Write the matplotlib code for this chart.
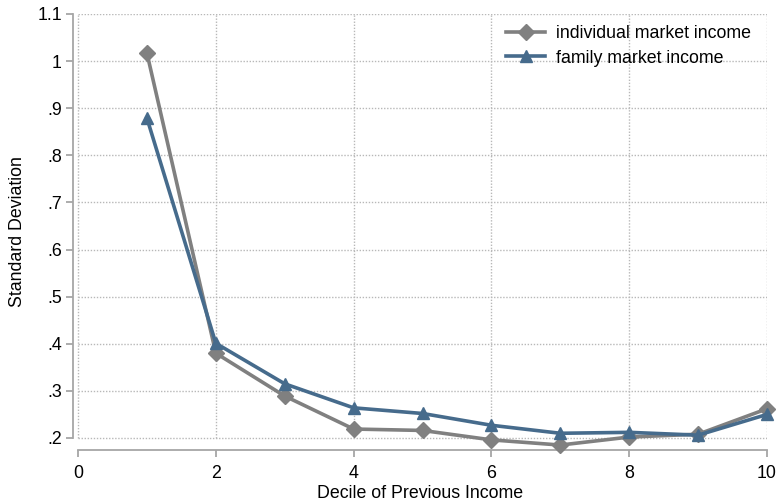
import numpy as np
import matplotlib.pyplot as plt

plt.rcParams['font.family'] = ['Liberation Sans', 'DejaVu Sans']

deciles = [1, 2, 3, 4, 5, 6, 7, 8, 9, 10]
individual = [1.017, 0.380, 0.289, 0.219, 0.216, 0.196, 0.185, 0.202, 0.208, 0.262]
family = [0.879, 0.401, 0.315, 0.264, 0.252, 0.227, 0.210, 0.212, 0.206, 0.250]

yticks = [0.2, 0.3, 0.4, 0.5, 0.6, 0.7, 0.8, 0.9, 1.0, 1.1]
ylabels = ['.2', '.3', '.4', '.5', '.6', '.7', '.8', '.9', '1', '1.1']
xticks = [0, 2, 4, 6, 8, 10]

gray = '#808080'
blue = '#466b8c'
axis_col = '#a6a6a6'
fs = 12.8

fig = plt.figure(figsize=(7.79, 5.04), dpi=100)
ax = fig.add_axes([73 / 779, 54 / 504, 694 / 779, 436 / 504])

# dotted grid confined to the tick range
ax.hlines(yticks, 0, 10, colors='#b8b8b8', linestyles=(0, (1, 1.2)), linewidth=1, zorder=1)
ax.vlines(xticks, 0.2, 1.1, colors='#b8b8b8', linestyles=(0, (1, 1.2)), linewidth=1, zorder=1)

ax.plot(deciles, individual, color=gray, lw=2.6, marker='D', ms=8,
        label='individual market income', clip_on=False, zorder=3)
ax.plot(deciles, family, color=blue, lw=2.6, marker='^', ms=8.5,
        label='family market income', clip_on=False, zorder=4)

ax.set_xlim(-0.073, 10)
ax.set_ylim(0.1745, 1.1)
ax.set_xticks(xticks)
ax.set_yticks(yticks)
ax.set_yticklabels(ylabels)

for s in ['top', 'right']:
    ax.spines[s].set_visible(False)
for s in ['left', 'bottom']:
    ax.spines[s].set_color(axis_col)
    ax.spines[s].set_linewidth(1.3)
ax.spines['left'].set_bounds(0.2, 1.1)
ax.spines['bottom'].set_bounds(0, 10)

ax.tick_params(axis='both', colors=axis_col, labelcolor='black', labelsize=fs,
               length=5, width=1.3)
ax.tick_params(axis='y', pad=3)
ax.tick_params(axis='x', pad=6)

ax.set_xlabel('Decile of Previous Income', fontsize=fs, labelpad=2)
ax.set_ylabel('Standard Deviation', fontsize=fs, labelpad=8)

ax.legend(loc='upper right', bbox_to_anchor=(1.0, 1.011), frameon=False, fontsize=fs,
          handlelength=2.2, handletextpad=0.6, labelspacing=0.42)

fig.savefig('out.png', dpi=100)
